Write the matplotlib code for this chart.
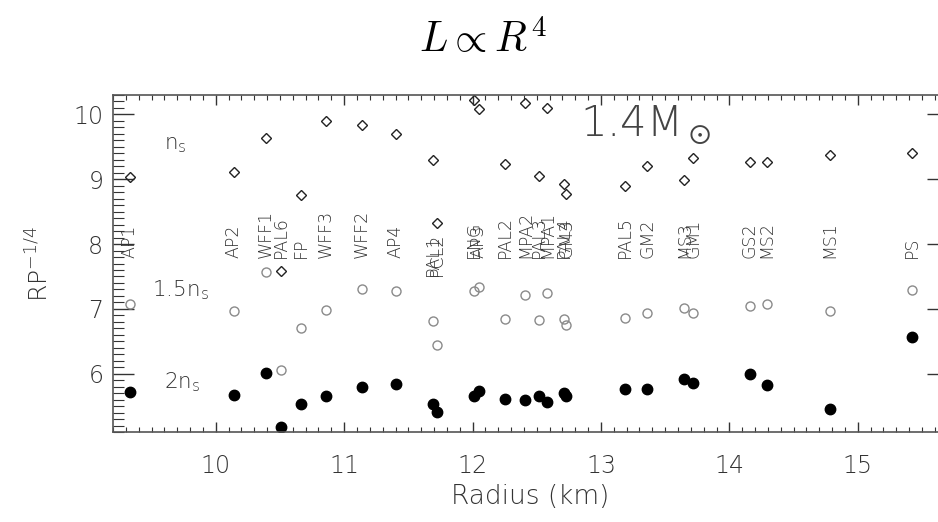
import matplotlib
matplotlib.use("Agg")
import matplotlib.pyplot as plt
from matplotlib.ticker import MultipleLocator

# equations of state and their radius (km) at 1.4 Msun
eos = ["AP1", "AP2", "WFF1", "PAL6", "FP", "WFF3", "WFF2", "AP4", "PAL1", "PCL2",
       "ENG", "AP3", "PAL2", "MPA2", "PAL3", "MPA1", "PAL4", "GM3", "PAL5", "GM2",
       "MS3", "GM1", "GS2", "MS2", "MS1", "PS"]
radius = [9.33, 10.14, 10.39, 10.51, 10.66, 10.86, 11.14, 11.40, 11.69, 11.72,
          12.01, 12.05, 12.25, 12.41, 12.52, 12.58, 12.71, 12.73, 13.19, 13.36,
          13.65, 13.72, 14.16, 14.29, 14.78, 15.42]

# R P^(-1/4) evaluated at n_s, 1.5 n_s and 2 n_s
rp_ns = [9.03, 9.11, 9.63, 7.59, 8.76, 9.90, 9.84, 9.70, 9.29, 8.33,
         10.23, 10.08, 9.23, 10.18, 9.05, 10.10, 8.93, 8.78, 8.90, 9.20,
         8.99, 9.33, 9.26, 9.27, 9.38, 9.41]
rp_15ns = [7.08, 6.96, 7.57, 6.06, 6.71, 6.98, 7.30, 7.27, 6.81, 6.44,
           7.27, 7.33, 6.84, 7.22, 6.83, 7.24, 6.85, 6.75, 6.86, 6.93,
           7.01, 6.94, 7.04, 7.08, 6.97, 7.29]
rp_2ns = [5.72, 5.67, 6.01, 5.17, 5.53, 5.65, 5.79, 5.84, 5.53, 5.41,
          5.65, 5.74, 5.61, 5.60, 5.65, 5.57, 5.70, 5.66, 5.76, 5.77,
          5.92, 5.85, 5.99, 5.82, 5.46, 6.57]

plt.rcParams["font.family"] = "DejaVu Sans"
plt.rcParams["font.weight"] = "light"
ink = "#333333"

fig = plt.figure(figsize=(9.38, 5.22), dpi=100)
ax = fig.add_axes([0.1205, 0.1724, 0.8898, 0.6456])

ax.plot(radius, rp_ns, ls="none", marker="D", ms=5.5, mfc="none", mec="#222222", mew=1.0)
ax.plot(radius, rp_15ns, ls="none", marker="o", ms=6.5, mfc="none", mec="#8a8a8a", mew=1.0)
ax.plot(radius, rp_2ns, ls="none", marker="o", ms=7.5, mfc="black", mec="black")

# EOS names written upwards above the 1.5 n_s points
for name, r in zip(eos, radius):
    base = 7.50 if name in ("PAL1", "PCL2") else 7.79
    ax.text(r, base, name, rotation=90, ha="center", va="bottom",
            fontsize=12.5, color=ink, fontweight="light")

ax.text(9.60, 9.46, r"n$_\mathrm{s}$", fontsize=15.5, color=ink)
ax.text(9.50, 7.19, r"1.5n$_\mathrm{s}$", fontsize=15.5, color=ink)
ax.text(9.60, 5.78, r"2n$_\mathrm{s}$", fontsize=15.5, color=ink)
ax.text(12.84, 9.66, r"1.4M$_\odot$", fontsize=30, color="#444444")

ax.set_xlim(9.2, 15.7)
ax.set_ylim(5.1, 10.3)
ax.xaxis.set_major_locator(MultipleLocator(1))
ax.xaxis.set_minor_locator(MultipleLocator(0.1))
ax.yaxis.set_major_locator(MultipleLocator(1))
ax.yaxis.set_minor_locator(MultipleLocator(0.1))

ax.tick_params(axis="x", which="both", direction="in", top=True, colors=ink,
               labelsize=17, pad=16)
ax.tick_params(axis="x", which="major", length=7, width=1)
ax.tick_params(axis="x", which="minor", length=3.5, width=0.8)
ax.tick_params(axis="y", which="both", direction="in", right=True, colors=ink,
               labelsize=17, pad=7)
ax.tick_params(axis="y", which="major", length=15, width=1)
ax.tick_params(axis="y", which="minor", length=8, width=0.8, right=False)
for lab in ax.get_xticklabels() + ax.get_yticklabels():
    lab.set_fontweight("light")
for s in ax.spines.values():
    s.set_color("#555555")
    s.set_linewidth(1.2)

ax.set_xlabel("Radius (km)", fontsize=19, color=ink, labelpad=4, fontweight="light")
ax.set_ylabel(r"RP$^{-1/4}$", fontsize=18, color=ink, labelpad=14, fontweight="light")

fig.text(0.515, 0.90, r"$L \propto R^4$", fontsize=30, ha="center",
         va="baseline", math_fontfamily="cm")

fig.savefig("out.png", dpi=100)
